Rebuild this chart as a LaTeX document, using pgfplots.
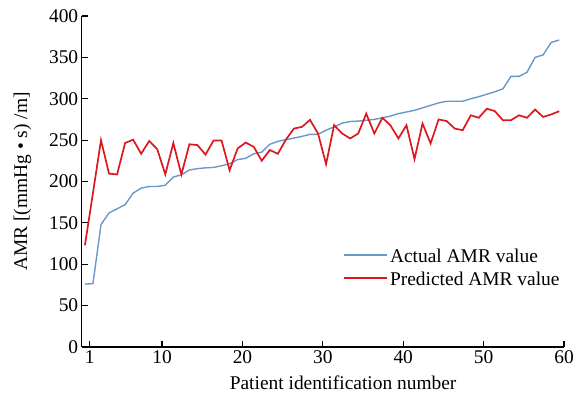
\documentclass[border=0pt]{standalone}
\usepackage{fontspec}
\setmainfont{Liberation Serif}
\usepackage{pgfplots}
\pgfplotsset{compat=1.18}
\usepackage{pgfplotstable}

\definecolor{actblue}{RGB}{104,152,200}
\definecolor{predred}{RGB}{222,22,30}

\pgfplotstableread{
i act pred
1 76 123
2 76.6 186
3 148 250
4 162 209.5
5 167 208.5
6 172 246.5
7 186 250.5
8 192 233.5
9 194 249
10 194 239
11 195.5 208.5
12 205.5 246.5
13 208 208.5
14 214 245
15 215.5 244
16 216.5 232.5
17 217 249.5
18 219 249.5
19 221.5 213.5
20 226.5 240
21 228 247
22 233.5 242
23 235.5 225
24 245 238
25 248.5 233.5
26 250.5 250.5
27 252.5 264
28 254.5 266
29 257 274.5
30 257 258
31 262 221
32 266 268
33 270.5 258
34 272.5 252
35 273 258
36 274 282
37 275 258
38 277 277
39 279 268
40 282 252
41 284 268
42 286 227
43 289 270
44 292 246
45 295 275
46 297 273
47 297 264
48 297 262
49 300 280
50 302.5 277
51 305.5 288
52 308.5 285
53 312 274
54 327 274
55 327 280
56 332 277
57 350 287
58 353 278
59 368 281
60 371 285
}\data

\begin{document}
\begin{tikzpicture}
\begin{axis}[
  scale only axis,
  width=482.3bp, height=331bp,
  xmin=0, xmax=60, ymin=0, ymax=400,
  axis x line*=bottom, axis y line*=left,
  xtick={1,10,20,30,40,50,60},
  xticklabels={1,10,20,30,40,50,60},
  ytick={0,50,100,150,200,250,300,350,400},
  yticklabels={0,50,100,150,200,250,300,350,400},
  tick align=inside,
  major tick length=6bp,
  tick style={black, line width=1.2pt},
  axis line style={black, line width=1.4pt},
  tick label style={font=\fontsize{19.5}{20}\selectfont},
  label style={font=\fontsize{19.5}{20}\selectfont},
  xlabel={Patient identification number},
  xlabel style={at={(ticklabel cs:0.542)}, anchor=near ticklabel, yshift=-5bp},
  ylabel={AMR [(mmHg \textbullet{} s) /m]},
  ylabel style={yshift=11bp},
  legend style={draw=none, fill=none, at={(axis description cs:0.536,0.318)}, anchor=north west,
    font=\fontsize{19.5}{20}\selectfont},
  legend cell align=left,
  legend image code/.code={\draw[#1] (0bp,0bp) -- (43bp,0bp);},
]
\addplot[actblue, line width=1.4pt] table[x expr=\thisrow{i}-0.6, y=act] {\data};
\addlegendentry{\rule[-7.5bp]{0pt}{24.5bp}Actual AMR value}
\addplot[predred, line width=1.7pt] table[x expr=\thisrow{i}-0.6, y=pred] {\data};
\addlegendentry{\rule[-7.5bp]{0pt}{24.5bp}Predicted AMR value}
\coordinate (sw) at (rel axis cs:0,0);
\coordinate (ne) at (rel axis cs:1,1);
\end{axis}
\pgfresetboundingbox
\path ([xshift=-81.7bp,yshift=-51bp]sw) rectangle ([xshift=10bp,yshift=16bp]ne);
\end{tikzpicture}
\end{document}
